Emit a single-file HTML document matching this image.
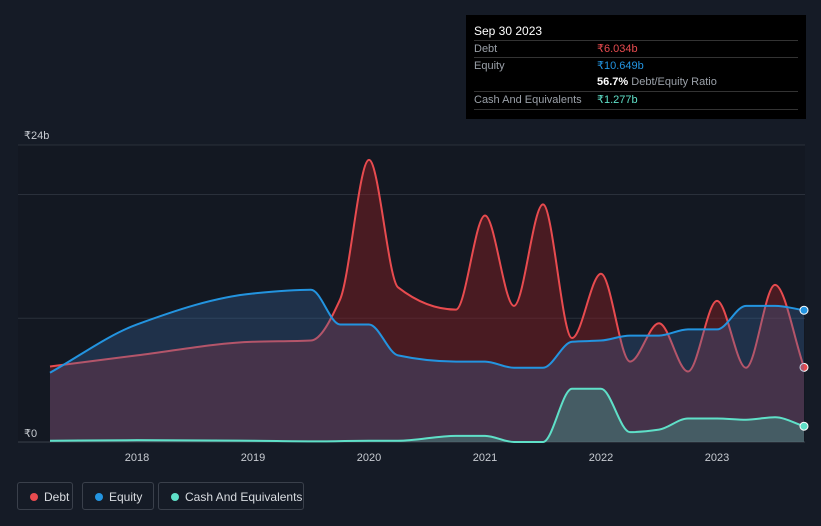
<!DOCTYPE html>
<html><head><meta charset="utf-8"><style>
body{margin:0;background:#151b26;width:821px;height:526px;overflow:hidden;font-family:"Liberation Sans",sans-serif}
.tt{position:absolute;left:466px;top:15px;width:340px;height:104px;background:#000;color:#fff;font-size:11px}
.tt .r{position:absolute;left:8px;right:8px;border-top:1px solid #333;height:17px;line-height:17px;color:#9aa0a8}
.leg{position:absolute;top:482px;height:28px;border:1px solid #3a404b;border-radius:3px;color:#d8dbe0;font-size:12px;line-height:28px;box-sizing:border-box;padding-left:26px}
.leg i{position:absolute;left:12px;top:10px;width:8px;height:8px;border-radius:50%}
</style></head><body>
<svg id="c" width="821" height="526" style="position:absolute;left:0;top:0"></svg>
<div class="tt">
<div style="position:absolute;left:8px;top:9px;font-size:12px">Sep 30 2023</div>
<div class="r" style="top:25px">Debt<span style="position:absolute;left:123px;color:#e84b4f">₹6.034b</span></div>
<div class="r" style="top:42px">Equity<span style="position:absolute;left:123px;color:#2394e0">₹10.649b</span></div>
<div class="r" style="top:59px;border-top:none"><span style="position:absolute;left:123px"><b style="color:#fff">56.7%</b> Debt/Equity Ratio</span></div>
<div class="r" style="top:76px;border-bottom:1px solid #333">Cash And Equivalents<span style="position:absolute;left:123px;color:#5fe0c8">₹1.277b</span></div>
</div>
<div class="leg" style="left:17px;width:56px"><i style="background:#e84b4f"></i>Debt</div>
<div class="leg" style="left:82px;width:72px"><i style="background:#2394e0"></i>Equity</div>
<div class="leg" style="left:158px;width:146px"><i style="background:#5fe0c8"></i>Cash And Equivalents</div>
<script>
const debtDates=[2017.25,2018,2019,2019.5,2019.75,2020,2020.25,2020.75,2021,2021.25,2021.5,2021.75,2022,2022.25,2022.5,2022.75,2023,2023.25,2023.5,2023.75];
const debtVals=[6.1,7.0,8.1,8.2,11.5,22.8,12.5,10.7,18.3,11.0,19.2,8.4,13.6,6.5,9.6,5.7,11.4,6.0,12.7,6.034];
const eqDates=[2017.25,2018,2019,2019.5,2019.75,2020,2020.25,2020.75,2021,2021.25,2021.5,2021.75,2022,2022.25,2022.5,2022.75,2023,2023.25,2023.5,2023.75];
const eqVals=[5.6,9.5,12.0,12.3,9.5,9.5,7.0,6.5,6.5,6.0,6.0,8.1,8.2,8.6,8.6,9.1,9.1,11.0,11.0,10.649];
const cashDates=[2017.25,2018,2019,2019.5,2020,2020.25,2020.75,2021,2021.25,2021.5,2021.75,2022,2022.25,2022.5,2022.75,2023,2023.25,2023.5,2023.75];
const cashVals=[0.1,0.15,0.1,0.05,0.1,0.1,0.5,0.5,0.0,0.0,4.3,4.3,0.8,1.0,1.9,1.9,1.8,2.0,1.277];
const yTicks=[0,24];const yTickLabels=["₹0","₹24b"];const gridVals=[10,20,24];
const xTicks=[2018,2019,2020,2021,2022,2023];
const X=t=>137+(t-2018)*116, Y=v=>442-v*12.375;
const svg=document.getElementById('c'),NS='http://www.w3.org/2000/svg';
function el(tag,a){const e=document.createElementNS(NS,tag);for(const k in a)e.setAttribute(k,a[k]);svg.appendChild(e);return e;}
function path(ds,vs){const p=ds.map((d,i)=>[X(d),Y(vs[i])]);const n=p.length;
const dx=[],sl=[];for(let i=0;i<n-1;i++){dx.push(p[i+1][0]-p[i][0]);sl.push((p[i+1][1]-p[i][1])/dx[i]);}
const m=[];m[0]=sl[0];m[n-1]=sl[n-2];
for(let i=1;i<n-1;i++){if(sl[i-1]*sl[i]<=0)m[i]=0;else{const w1=2*dx[i]+dx[i-1],w2=dx[i]+2*dx[i-1];m[i]=(w1+w2)/(w1/sl[i-1]+w2/sl[i]);}}
let s=`M${p[0][0]},${p[0][1]}`;
for(let i=0;i<n-1;i++){const h=dx[i]/3;s+=`C${p[i][0]+h},${p[i][1]+m[i]*h} ${p[i+1][0]-h},${p[i+1][1]-m[i+1]*h} ${p[i+1][0]},${p[i+1][1]}`;}return s;}
const bg=el('rect',{x:18,y:145,width:787,height:297,fill:'#131822'});

gridVals.forEach(v=>{const g=el('line',{x1:18,x2:805,y1:Y(v),y2:Y(v),stroke:'#2a303b'});});
const base=el('line',{x1:18,x2:805,y1:442,y2:442,stroke:'#3a404b'});
yTicks.forEach((v,i)=>{const t=el('text',{x:24,y:Y(v)-6+(v==0?1:0),fill:'#c8ccd2','font-size':11});t.textContent=yTickLabels[i];});
xTicks.forEach(v=>{const t=el('text',{x:X(v),y:461,fill:'#c8ccd2','font-size':11,'text-anchor':'middle'});t.textContent=v;});
function series(ds,vs,col,fill,name){const d=path(ds,vs);
const a=el('path',{d:d+`L${X(ds[ds.length-1])},442L${X(ds[0])},442Z`,fill:fill});
const l=el('path',{d:d,fill:'none',stroke:col,'stroke-width':2});
const c=el('circle',{cx:X(ds[ds.length-1]),cy:Y(vs[vs.length-1]),r:4,fill:col,stroke:'#fff','stroke-width':1});}
series(debtDates,debtVals,'#e84b4f','rgba(140,30,35,0.45)','debt');
series(eqDates,eqVals,'#2394e0','rgba(60,110,170,0.3)','equity');
series(cashDates,cashVals,'#5fe0c8','rgba(70,170,150,0.35)','cash');
</script>
</body></html>
